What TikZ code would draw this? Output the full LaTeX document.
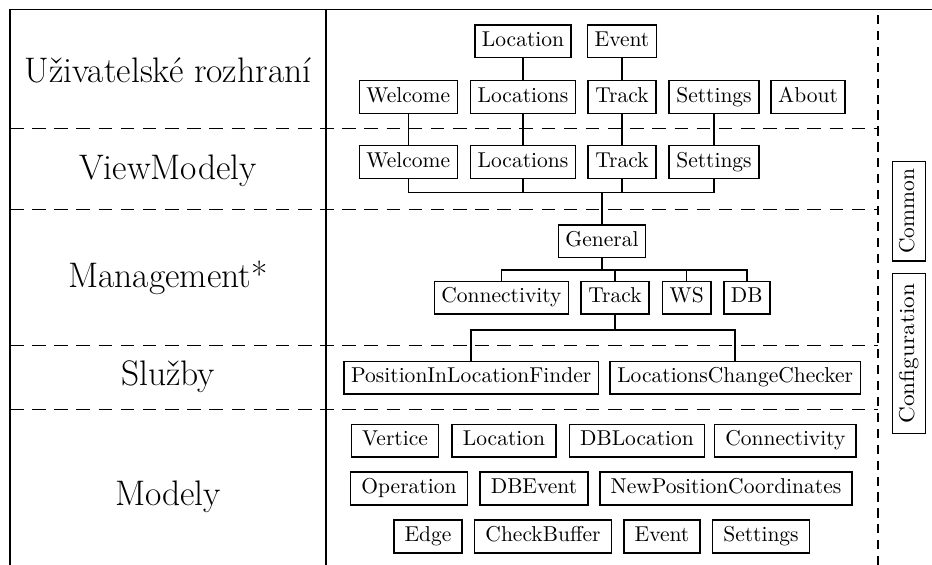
\documentclass[tikz,border=0pt]{standalone}
\usetikzlibrary{calc}
\begin{document}
\begin{tikzpicture}[x=0.465pt, y=-0.465pt, line width=0.7pt,
  box/.style={draw, inner sep=3.33pt, text height=6.6pt, text depth=1.9pt},
  modelbox/.style={box, inner xsep=5pt},
  layer/.style={font=\fontsize{16.5}{19}\selectfont, anchor=base},
  sep/.style={dash pattern=on 6.3pt off 4pt},
  sidesep/.style={dash pattern=on 4.3pt off 3.1pt}]

\useasboundingbox (0,0) rectangle (932,565);

% frame and layer separators
\coordinate (frameTL) at (10,9.3);
\coordinate (frameBL) at (10,565);
\coordinate (frameTR) at (932,9.3);
\coordinate (colTop) at (326,9.3);
\coordinate (colBot) at (326,565);
\coordinate (sideTop) at (878,15);
\coordinate (sideBot) at (878,565);
\draw (frameBL) -- (frameTL) -- (frameTR);
\draw (colTop) -- (colBot);
\draw[sidesep] (sideTop) -- (sideBot);
\foreach \y in {128.3,209.3,345.7,409.3}
  \draw[sep] (10,\y) -- (878,\y);

% layer names
\node[layer] (lUI) at (168,82.5) {Uživatelské rozhraní};
\node[layer] (lVM) at (168,180) {ViewModely};
\node[layer] (lMg) at (168,287.3) {Management*};
\node[layer] (lSv) at (168,386) {Služby};
\node[layer] (lMd) at (168,505) {Modely};

% user interface
\node[box] (uiLocation) at (523,41.3) {Location};
\node[box] (uiEvent) at (622,41.3) {Event};
\node[box] (uiWelcome) at (408.3,97) {Welcome};
\node[box] (uiLocations) at (523,97) {Locations};
\node[box] (uiTrack) at (622,97) {Track};
\node[box] (uiSettings) at (714,97) {Settings};
\node[box] (uiAbout) at (808,97) {About};

% view models
\node[box] (vmWelcome) at (408.3,162) {Welcome};
\node[box] (vmLocations) at (523,162) {Locations};
\node[box] (vmTrack) at (622,162) {Track};
\node[box] (vmSettings) at (714,162) {Settings};

% management
\node[box] (mgGeneral) at (602,241.3) {General};
\node[box] (mgConn) at (501.5,297.8) {Connectivity};
\node[box] (mgTrack) at (615,297.8) {Track};
\node[box] (mgWS) at (686.7,297.8) {WS};
\node[box] (mgDB) at (746.8,297.8) {DB};

% services
\node[box] (svFinder) at (471.2,377.8) {PositionInLocationFinder};
\node[box] (svChecker) at (735.2,377.8) {LocationsChangeChecker};

% models
\node[modelbox] (mdVertice) at (395,440.8) {Vertice};
\node[modelbox] (mdLocation) at (504,440.8) {Location};
\node[modelbox] (mdDBLocation) at (637,440.8) {DBLocation};
\node[modelbox] (mdConn) at (785.4,440.8) {Connectivity};
\node[modelbox] (mdOperation) at (409,488.5) {Operation};
\node[modelbox] (mdDBEvent) at (534,488.5) {DBEvent};
\node[modelbox] (mdNewPos) at (726,488.5) {NewPositionCoordinates};
\node[modelbox] (mdEdge) at (428,536.5) {Edge};
\node[modelbox] (mdBuffer) at (543,536.5) {CheckBuffer};
\node[modelbox] (mdEvent) at (662,536.5) {Event};
\node[modelbox] (mdSettings) at (761,536.5) {Settings};

% shared modules
\node[box, rotate=90] (common) at (909,211.3) {Common};
\node[box, rotate=90, minimum width=74.4pt] (config) at (909,353.7)
  {\scalebox{1.08}[1]{Configuration}};

% connections
\draw (uiLocation) -- (uiLocations);
\draw (uiEvent) -- (uiTrack);
\draw (uiWelcome) -- (vmWelcome);
\draw (uiLocations) -- (vmLocations);
\draw (uiTrack) -- (vmTrack);
\draw (uiSettings) -- (vmSettings);

\coordinate (bus1) at (602,192.7);
\draw (vmWelcome.south) |- (bus1) -| (vmSettings.south);
\draw (vmLocations.south) -- (vmLocations.south |- bus1);
\draw (vmTrack.south) -- (vmTrack.south |- bus1);
\draw (bus1) -- (mgGeneral.north);

\coordinate (bus2) at (602,270);
\draw (mgGeneral.south) -- (bus2);
\draw (mgConn.north) |- (bus2) -| (mgDB.north);
\draw (mgTrack.north) -- (mgTrack.north |- bus2);
\draw (mgWS.north) -- (mgWS.north |- bus2);

\coordinate (bus3) at (615,330);
\draw (mgTrack.south) -- (bus3);
\draw (svFinder.north) |- (bus3) -| (svChecker.north);
\end{tikzpicture}
\end{document}
